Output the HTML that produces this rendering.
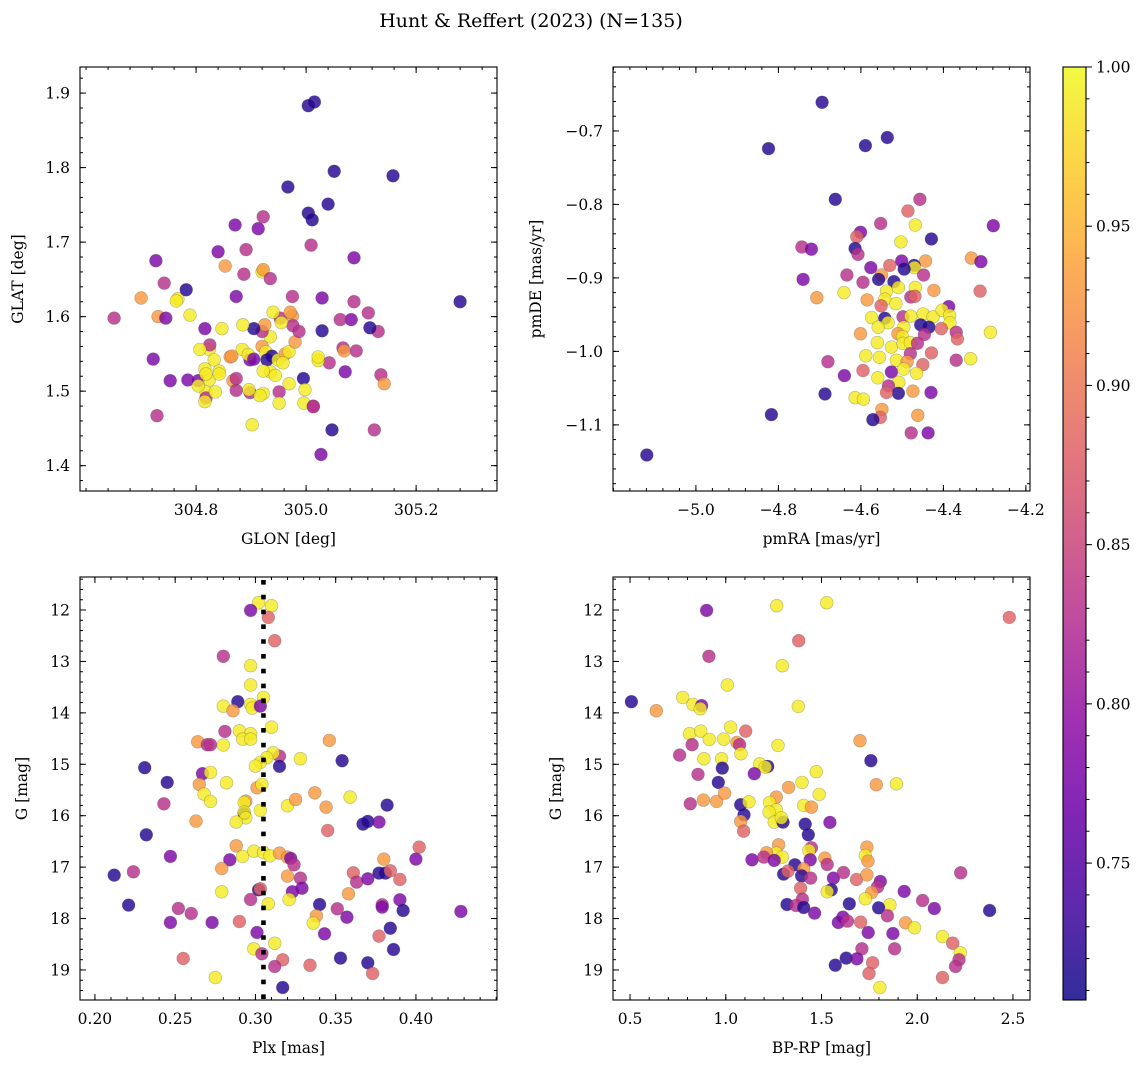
<!DOCTYPE html>
<html><head><meta charset="utf-8">
<style>
html,body{margin:0;padding:0;background:#fff;}
svg{display:block;font-family:"DejaVu Serif","Liberation Serif",serif;}
</style></head>
<body>
<svg id="fig" width="1148" height="1067" viewBox="0 0 1148 1067" xmlns="http://www.w3.org/2000/svg">
<defs>
<linearGradient id="plasma" x1="0" y1="1" x2="0" y2="0">
<stop offset="0" stop-color="#0d0887"/><stop offset="0.1" stop-color="#41049d"/><stop offset="0.2" stop-color="#6a00a8"/><stop offset="0.3" stop-color="#8f0da4"/><stop offset="0.4" stop-color="#b12a90"/><stop offset="0.5" stop-color="#cc4778"/><stop offset="0.6" stop-color="#e16462"/><stop offset="0.7" stop-color="#f2844b"/><stop offset="0.8" stop-color="#fca636"/><stop offset="0.9" stop-color="#fcce25"/><stop offset="1" stop-color="#f0f921"/>
</linearGradient>
</defs>
<text x="531" y="27" text-anchor="middle" font-size="19">Hunt &amp; Reffert (2023) (N=135)</text>
</svg>
<script>
// ---------- Panel 1: GLON / GLAT ----------
const p1Glon=[305.004,305.015,305.158,305.051,304.967,305.04,305.004,305.011,304.913,304.922,304.871,304.84,304.891,304.887,304.853,304.92,304.922,305.009,305.087,304.727,304.742,304.7,304.767,304.764,304.782,304.651,304.731,304.745,304.789,304.873,304.935,304.975,305.029,305.087,305.113,305.082,305.131,305.116,305.28,305.029,305.062,305.067,305.069,305.091,305.042,305.071,305.136,305.022,304.722,304.824,304.833,304.862,304.884,304.92,304.935,304.92,304.953,304.975,304.976,304.971,304.94,304.955,304.925,304.905,304.885,304.847,304.816,304.825,304.807,304.842,304.804,304.865,304.898,304.895,304.905,304.927,304.929,304.938,304.949,304.962,304.969,304.98,304.987,304.958,304.935,304.944,304.922,304.969,304.898,304.922,304.916,304.951,304.951,304.896,304.824,304.818,304.867,304.873,304.818,304.785,304.753,304.842,304.873,304.816,304.804,304.816,304.818,304.995,305.142,304.996,304.998,304.835,304.902,305.013,305.047,304.729,305.124,305.027,305.013,305.022];
const p1Glat=[1.883,1.888,1.789,1.795,1.774,1.751,1.739,1.73,1.718,1.734,1.723,1.687,1.69,1.657,1.668,1.66,1.663,1.696,1.679,1.675,1.645,1.625,1.624,1.621,1.636,1.598,1.6,1.598,1.602,1.627,1.651,1.627,1.625,1.62,1.605,1.596,1.58,1.585,1.62,1.581,1.596,1.558,1.554,1.554,1.538,1.526,1.522,1.541,1.543,1.556,1.542,1.546,1.556,1.56,1.573,1.58,1.598,1.601,1.588,1.606,1.606,1.592,1.589,1.584,1.589,1.584,1.584,1.562,1.556,1.527,1.514,1.547,1.542,1.549,1.543,1.553,1.542,1.547,1.542,1.55,1.553,1.566,1.58,1.538,1.526,1.521,1.527,1.51,1.498,1.497,1.494,1.499,1.484,1.502,1.515,1.499,1.514,1.501,1.491,1.515,1.514,1.523,1.517,1.486,1.507,1.53,1.523,1.517,1.51,1.484,1.502,1.499,1.455,1.48,1.448,1.467,1.448,1.415,1.479,1.546];
const p1Cls="ddddddddpmppmmOyOmppmOyydmOpypmmpmmpmdddmmOmmpmypyyOyOymmOmOyyOdyypmyypOpypyddyOyOmyyyyymyymyyyyOmmppymyyyydOyyyymdmmpmy";
const p1XTicks=[304.8,305.0,305.2];
const p1XTickLabels=["304.8","305.0","305.2"];
const p1YTicks=[1.4,1.5,1.6,1.7,1.8,1.9];
const p1YTickLabels=["1.4","1.5","1.6","1.7","1.8","1.9"];

// ---------- Panel 2: pmRA / pmDE ----------
const p2Pmra=[-4.694,-4.824,-4.589,-4.536,-4.662,-4.457,-4.486,-4.552,-4.468,-4.279,-4.601,-4.610,-4.429,-4.503,-4.743,-4.720,-4.614,-4.607,-4.332,-4.309,-4.501,-4.443,-4.530,-4.576,-4.471,-4.470,-4.495,-4.448,-4.634,-4.550,-4.557,-4.520,-4.740,-4.595,-4.641,-4.538,-4.509,-4.468,-4.423,-4.311,-4.707,-4.585,-4.542,-4.515,-4.479,-4.469,-4.551,-4.387,-4.574,-4.542,-4.534,-4.498,-4.479,-4.449,-4.425,-4.403,-4.385,-4.384,-4.455,-4.435,-4.405,-4.496,-4.601,-4.558,-4.510,-4.499,-4.446,-4.369,-4.366,-4.286,-4.560,-4.526,-4.498,-4.480,-4.463,-4.429,-4.369,-4.334,-4.680,-4.588,-4.555,-4.514,-4.480,-4.488,-4.450,-4.640,-4.595,-4.559,-4.526,-4.496,-4.465,-4.508,-4.533,-4.687,-4.509,-4.538,-4.474,-4.430,-4.614,-4.594,-4.817,-4.549,-4.553,-4.571,-4.462,-4.478,-4.437,-5.119];
const p2Pmde=[-0.661,-0.724,-0.720,-0.709,-0.793,-0.793,-0.809,-0.826,-0.828,-0.829,-0.838,-0.844,-0.847,-0.851,-0.858,-0.861,-0.860,-0.868,-0.873,-0.878,-0.877,-0.877,-0.883,-0.886,-0.883,-0.886,-0.888,-0.896,-0.896,-0.896,-0.902,-0.905,-0.902,-0.906,-0.920,-0.918,-0.913,-0.913,-0.917,-0.918,-0.927,-0.930,-0.929,-0.935,-0.926,-0.925,-0.938,-0.939,-0.954,-0.955,-0.961,-0.953,-0.952,-0.949,-0.953,-0.944,-0.951,-0.961,-0.964,-0.967,-0.969,-0.967,-0.976,-0.967,-0.976,-0.980,-0.977,-0.974,-0.983,-0.974,-0.988,-0.994,-0.989,-0.988,-0.989,-1.002,-1.012,-1.010,-1.014,-1.006,-1.008,-1.012,-1.003,-1.014,-1.018,-1.033,-1.026,-1.036,-1.028,-1.024,-1.030,-1.042,-1.047,-1.058,-1.057,-1.056,-1.054,-1.056,-1.063,-1.065,-1.086,-1.079,-1.090,-1.093,-1.087,-1.111,-1.111,-1.141];
const p2Cls="dddddmomyppodympdmOppOopdydmmOddpmyyyyOoOOyymoopydymyyyyyyddoyOyOymmoyyyyymomymyyymOopoypyyymddoOpyydOodOmpd";
const p2XTicks=[-5.0,-4.8,-4.6,-4.4,-4.2];
const p2XTickLabels=["\u22125.0","\u22124.8","\u22124.6","\u22124.4","\u22124.2"];
const p2YTicks=[-1.1,-1.0,-0.9,-0.8,-0.7];
const p2YTickLabels=["\u22121.1","\u22121.0","\u22120.9","\u22120.8","\u22120.7"];

// ---------- Panel 3: Plx / G ----------
const p3Plx=[0.302,0.310,0.297,0.308,0.312,0.280,0.297,0.297,0.305,0.289,0.280,0.286,0.297,0.298,0.303,0.310,0.281,0.290,0.297,0.292,0.297,0.264,0.270,0.272,0.280,0.346,0.315,0.311,0.307,0.303,0.300,0.328,0.354,0.315,0.231,0.267,0.272,0.245,0.282,0.265,0.301,0.304,0.337,0.359,0.268,0.272,0.294,0.293,0.320,0.325,0.344,0.243,0.382,0.303,0.293,0.293,0.294,0.288,0.263,0.367,0.370,0.377,0.345,0.232,0.288,0.292,0.299,0.305,0.309,0.315,0.320,0.322,0.324,0.247,0.284,0.279,0.380,0.402,0.400,0.212,0.224,0.320,0.328,0.361,0.363,0.370,0.377,0.381,0.384,0.390,0.279,0.302,0.303,0.323,0.329,0.358,0.221,0.308,0.321,0.297,0.340,0.379,0.379,0.390,0.392,0.428,0.252,0.260,0.338,0.336,0.351,0.357,0.247,0.273,0.290,0.301,0.343,0.384,0.377,0.312,0.299,0.304,0.386,0.255,0.317,0.312,0.334,0.353,0.370,0.373,0.275,0.317];
const p3G=[11.857,11.916,12.007,12.143,12.597,12.901,13.083,13.459,13.699,13.783,13.868,13.958,13.835,13.907,13.868,14.276,14.361,14.348,14.406,14.510,14.510,14.562,14.620,14.620,14.626,14.536,14.840,14.776,14.873,14.964,15.035,14.892,14.931,15.041,15.067,15.184,15.158,15.353,15.359,15.392,15.457,15.392,15.554,15.638,15.580,15.722,15.716,15.742,15.807,15.684,15.833,15.768,15.794,15.898,15.962,15.930,16.040,16.125,16.105,16.163,16.111,16.124,16.287,16.371,16.585,16.792,16.689,16.715,16.779,16.728,16.805,16.831,16.955,16.792,16.857,17.026,16.844,16.611,16.844,17.156,17.091,17.175,17.214,17.110,17.292,17.227,17.117,17.117,17.071,17.240,17.480,17.441,17.421,17.480,17.409,17.519,17.739,17.713,17.629,17.629,17.726,17.733,17.778,17.636,17.843,17.862,17.804,17.901,17.947,18.089,17.811,17.973,18.076,18.076,18.057,18.271,18.297,18.187,18.342,18.479,18.589,18.686,18.602,18.777,18.803,18.932,18.907,18.770,18.861,19.069,19.147,19.341];
const p3Cls="yypoomyyydyOyypymyyyyOmmyOmyyyyydddpydyOOyOyyyOyyOOmdydyyyOddpodOyyyyOOpmppOOopdmOmompddooydoppOdyymdmppdpmmOympppoppdoyymdoomoddoyd";
const p3XTicks=[0.20,0.25,0.30,0.35,0.40];
const p3XTickLabels=["0.20","0.25","0.30","0.35","0.40"];
const plxRef=[0.305];

// ---------- Panel 4: BP-RP / G ----------
const p4Bprp=[0.900,1.266,1.527,2.481,1.381,0.912,1.295,1.008,0.775,0.507,0.637,0.829,0.874,0.867,1.379,0.811,0.869,0.914,0.989,1.025,1.104,0.824,0.759,1.058,1.072,1.079,0.886,0.978,1.273,1.701,0.982,1.177,1.219,1.206,1.149,0.855,0.961,1.473,1.398,1.328,1.758,1.786,1.891,1.488,0.815,0.883,0.952,0.994,1.078,1.121,1.264,1.229,1.264,1.226,1.095,1.078,1.093,1.253,1.299,1.290,1.407,1.447,1.415,1.431,1.544,1.276,1.264,1.295,1.213,1.137,1.198,1.253,1.447,1.434,1.441,1.518,1.530,1.737,1.729,1.743,1.361,1.407,1.302,1.325,1.396,1.443,1.562,1.615,1.683,1.737,1.807,1.793,1.762,1.729,1.551,1.530,1.391,1.400,1.932,2.028,2.089,2.227,2.378,1.645,1.857,1.798,1.844,1.939,1.986,1.320,1.367,1.407,1.464,1.588,1.612,1.636,1.704,1.744,1.873,1.882,2.132,2.185,2.225,2.218,2.200,1.711,1.629,1.685,1.767,1.572,1.748,2.132,1.805];
const p4G=[12.007,11.916,11.857,12.143,12.597,12.901,13.083,13.459,13.699,13.783,13.958,13.835,13.861,13.920,13.874,14.406,14.354,14.516,14.510,14.276,14.354,14.620,14.821,14.575,14.620,14.795,14.892,14.892,14.633,14.542,15.074,14.990,15.041,15.054,15.184,15.197,15.353,15.145,15.353,15.450,14.931,15.398,15.379,15.586,15.768,15.697,15.722,15.560,15.787,15.729,15.638,15.742,15.885,15.930,15.982,16.111,16.299,16.125,16.125,16.040,15.800,15.833,16.163,16.371,16.131,16.565,16.728,16.805,16.721,16.857,16.805,16.870,16.624,16.676,16.857,16.825,16.948,16.611,16.773,16.883,16.955,17.032,17.136,17.078,17.169,17.214,17.214,17.104,17.240,17.149,17.279,17.383,17.493,17.616,17.441,17.480,17.409,17.623,17.473,17.649,17.804,17.110,17.843,17.713,17.733,17.791,17.947,18.083,18.180,17.726,17.746,17.785,17.895,18.076,17.973,18.050,18.070,18.271,18.290,18.589,18.349,18.479,18.667,18.803,18.932,18.589,18.770,18.783,18.861,18.907,19.069,19.147,19.341];
const p4Cls="pyyoomyyydOypyyyyyyyommOmyyyyOdydypmdyyOdOyymOOOdyOyyydOoydyyOddpOyyOpmpmypOmOyOdOdodmpmoOpmOydyompmpmddydmOydmdpppmoppmyoymmmdpodooyd";
const gTicks=[12,13,14,15,16,17,18,19];
const gTickLabels=["12","13","14","15","16","17","18","19"];
const p4XTicks=[0.5,1.0,1.5,2.0,2.5];
const p4XTickLabels=["0.5","1.0","1.5","2.0","2.5"];

// ---------- Colour classes -> membership probability ----------
const clsProb={d:0.72,p:0.78,m:0.83,o:0.88,O:0.93,y:0.99};
const cbTicks=[0.75,0.80,0.85,0.90,0.95,1.00];
const cbTickLabels=["0.75","0.80","0.85","0.90","0.95","1.00"];
const cbMin=0.707, cbMax=1.0;

const NS="http://www.w3.org/2000/svg";
const svg=document.getElementById('fig');
const plasma=[[13,8,135],[65,4,157],[106,0,168],[143,13,164],[177,42,144],[204,71,120],[225,100,98],[242,132,75],[252,166,54],[252,206,37],[240,249,33]];
function cmap(v){if(!isFinite(v))v=0.85;let t=(v-cbMin)/(cbMax-cbMin);t=Math.max(0,Math.min(1,t))*10;const i=Math.min(9,Math.floor(t)),f=t-i;const a=plasma[i],b=plasma[i+1];return `rgb(${Math.round(a[0]+(b[0]-a[0])*f)},${Math.round(a[1]+(b[1]-a[1])*f)},${Math.round(a[2]+(b[2]-a[2])*f)})`;}
function el(tag,attrs,parent){const e=document.createElementNS(NS,tag);for(const k in attrs)e.setAttribute(k,attrs[k]);(parent||svg).appendChild(e);return e;}

function panel(cfg){
  const g=el('g',{});
  
  
  const {x0,y0,w,h}=cfg;
  const sx=v=>x0+(v-cfg.xmin)/(cfg.xmax-cfg.xmin)*w;
  const sy=v=>cfg.yrev? y0+(v-cfg.ymin)/(cfg.ymax-cfg.ymin)*h : y0+h-(v-cfg.ymin)/(cfg.ymax-cfg.ymin)*h;
  const pg=el('g',{},g);
  
  
  const n=Math.min(cfg.xs.length,cfg.ys.length);
  for(let i=0;i<n;i++){
    const pv=clsProb[cfg.cls[i]];
    const c=el('circle',{cx:sx(cfg.xs[i]).toFixed(1),cy:sy(cfg.ys[i]).toFixed(1),r:6.4,fill:cmap(pv===undefined?0.85:pv),'fill-opacity':0.82,stroke:'rgba(60,60,60,0.35)','stroke-width':0.6},pg);
    
    
  }
  if(cfg.vline){
    for(const v of cfg.vline){
      const l=el('line',{x1:sx(v),x2:sx(v),y1:y0+3,y2:y0+h,stroke:'#000','stroke-width':4.6,'stroke-dasharray':'4.6 10.2'},g);
      
      
    }
  }
  const fr=el('rect',{x:x0,y:y0,width:w,height:h,fill:'none',stroke:'#000','stroke-width':1.1},g);
  
  
  const tk=el('g',{stroke:'#000','stroke-width':1},g);
  
  
  const lo=Math.ceil(cfg.xmin/cfg.xminor-1e-6), hi=Math.floor(cfg.xmax/cfg.xminor+1e-6);
  for(let k=lo;k<=hi;k++){const X=sx(k*cfg.xminor);el('line',{x1:X,x2:X,y1:y0+h,y2:y0+h-3},tk);el('line',{x1:X,x2:X,y1:y0,y2:y0+3},tk);}
  const lo2=Math.ceil(cfg.ymin/cfg.yminor-1e-6), hi2=Math.floor(cfg.ymax/cfg.yminor+1e-6);
  for(let k=lo2;k<=hi2;k++){const Y=sy(k*cfg.yminor);el('line',{x1:x0,x2:x0+3,y1:Y,y2:Y},tk);el('line',{x1:x0+w,x2:x0+w-3,y1:Y,y2:Y},tk);}
  cfg.xticks.forEach((v,i)=>{const X=sx(v);el('line',{x1:X,x2:X,y1:y0+h,y2:y0+h-6},tk);el('line',{x1:X,x2:X,y1:y0,y2:y0+6},tk);
    const t=el('text',{x:X,y:y0+h+24,'text-anchor':'middle','font-size':15.5},g);t.textContent=cfg.xlabels[i];
    
    });
  cfg.yticks.forEach((v,i)=>{const Y=sy(v);el('line',{x1:x0,x2:x0+6,y1:Y,y2:Y},tk);el('line',{x1:x0+w,x2:x0+w-6,y1:Y,y2:Y},tk);
    const t=el('text',{x:x0-10,y:Y+5.5,'text-anchor':'end','font-size':15.5},g);t.textContent=cfg.ylabels[i];
    
    });
  const xl=el('text',{x:x0+w/2,y:y0+h+53,'text-anchor':'middle','font-size':15.5},g);xl.textContent=cfg.xtitle;
  
  
  const yl=el('text',{x:0,y:0,'text-anchor':'middle','font-size':15.5,transform:`translate(${cfg.ytx},${y0+h/2}) rotate(-90)`},g);yl.textContent=cfg.ytitle;
  
  
}

panel({name:'glon-glat-panel',x0:80,y0:67,w:417,h:424,xmin:304.589,xmax:305.347,ymin:1.366,ymax:1.935,xs:p1Glon,ys:p1Glat,cls:p1Cls,xticks:p1XTicks,xlabels:p1XTickLabels,yticks:p1YTicks,ylabels:p1YTickLabels,xminor:0.04,yminor:0.02,xtitle:'GLON [deg]',ytitle:'GLAT [deg]',ytx:23});
panel({name:'proper-motion-panel',x0:613,y0:67,w:417,h:424,xmin:-5.201,xmax:-4.190,ymin:-1.190,ymax:-0.613,xs:p2Pmra,ys:p2Pmde,cls:p2Cls,xticks:p2XTicks,xlabels:p2XTickLabels,yticks:p2YTicks,ylabels:p2YTickLabels,xminor:0.04,yminor:0.02,xtitle:'pmRA [mas/yr]',ytitle:'pmDE [mas/yr]',ytx:541});
panel({name:'parallax-magnitude-panel',x0:80,y0:577,w:417,h:423,xmin:0.1907,xmax:0.4505,ymin:11.358,ymax:19.584,yrev:true,xs:p3Plx,ys:p3G,cls:p3Cls,xticks:p3XTicks,xlabels:p3XTickLabels,yticks:gTicks,ylabels:gTickLabels,xminor:0.01,yminor:0.2,xtitle:'Plx [mas]',ytitle:'G [mag]',ytx:27,vline:plxRef});
panel({name:'color-magnitude-panel',x0:613,y0:577,w:417,h:423,xmin:0.411,xmax:2.589,ymin:11.358,ymax:19.584,yrev:true,xs:p4Bprp,ys:p4G,cls:p4Cls,xticks:p4XTicks,xlabels:p4XTickLabels,yticks:gTicks,ylabels:gTickLabels,xminor:0.1,yminor:0.2,xtitle:'BP-RP [mag]',ytitle:'G [mag]',ytx:561});

(function(){
  const cb=el('g',{});
  
  
  const x=1063,y=67,w=23,h=933;
  const r=el('rect',{x:x,y:y,width:w,height:h,fill:'url(#plasma)','fill-opacity':0.85,stroke:'#000','stroke-width':1.1},cb);
  
  
  const sy=v=>y+h-(v-cbMin)/(cbMax-cbMin)*h;
  for(let k=Math.ceil(cbMin/0.01);k<=Math.floor(cbMax/0.01+1e-6);k++){const Y=sy(k*0.01);el('line',{x1:x+w,x2:x+w+3.5,y1:Y,y2:Y,stroke:'#000','stroke-width':1},cb);}
  cbTicks.forEach((v,i)=>{const Y=sy(v);el('line',{x1:x+w,x2:x+w+6,y1:Y,y2:Y,stroke:'#000','stroke-width':1},cb);
    const t=el('text',{x:x+w+10,y:Y+5.5,'font-size':15.5},cb);t.textContent=cbTickLabels[i];
    
    });
})();
</script>
</body></html>
